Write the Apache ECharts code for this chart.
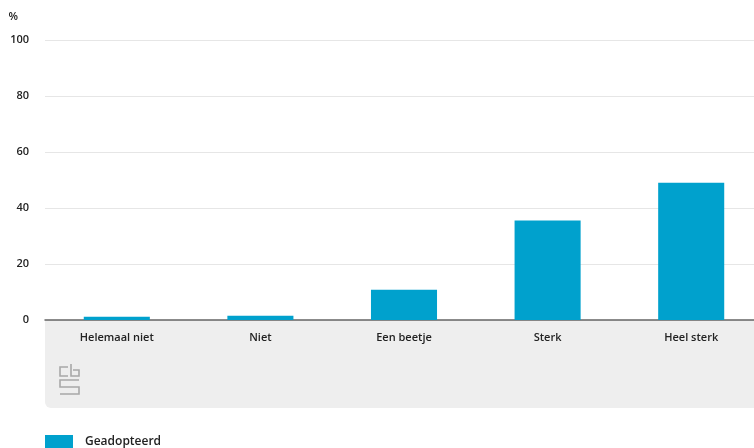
<!DOCTYPE html>
<html>
<head>
<meta charset="utf-8">
<script src="https://cdn.jsdelivr.net/npm/echarts@6/dist/echarts.min.js"></script>
<style>
  html, body { margin: 0; padding: 0; background: #fff; }
  #chart { width: 754px; height: 448px; }
</style>
</head>
<body>
<div id="chart"></div>
<script>
// categorieen en waarden (%)
const categories = ["Helemaal niet", "Niet", "Een beetje", "Sterk", "Heel sterk"];
const geadopteerd = [1.2, 1.5, 10.8, 35.5, 49];
const seriesName = "Geadopteerd";

const chart = echarts.init(document.getElementById("chart"));

const font = "Open Sans";
const logoStyle = { stroke: "#a8a8a8", lineWidth: 1.6, fill: null };

const option = {
  animation: false,
  textStyle: { fontFamily: font },
  // grafiek loopt rechts iets buiten beeld, zoals in het origineel
  grid: { left: 45, right: -9, top: 40, bottom: 128, outerBoundsMode: "none" },
  legend: {
    left: 45,
    top: 435,
    padding: 0,
    itemWidth: 28,
    itemHeight: 14,
    icon: "rect",
    textStyle: { color: "#222", fontSize: 12, fontWeight: 600, padding: [0, 0, 0, 7] },
    data: [seriesName]
  },
  graphic: [
    // grijze band onder de as
    {
      type: "rect",
      z: -10,
      shape: { x: 45, y: 321, width: 720, height: 87, r: [0, 0, 6, 6] },
      style: { fill: "#eeeeee" }
    },
    // cbs logo (schets)
    { type: "polyline", z: -5, shape: { points: [[68, 367], [60, 367], [60, 376], [68, 376]] }, style: logoStyle },
    { type: "polyline", z: -5, shape: { points: [[71, 364], [71, 376], [79, 376], [79, 370], [73, 370]] }, style: logoStyle },
    { type: "polyline", z: -5, shape: { points: [[79, 380], [60, 380], [60, 387], [79, 387], [79, 394], [60, 394]] }, style: logoStyle }
  ],
  xAxis: {
    type: "category",
    data: categories,
    axisLine: { lineStyle: { color: "#666", width: 1.5 } },
    axisTick: { show: false },
    axisLabel: { color: "#222", fontSize: 11, fontWeight: 600, margin: 12 }
  },
  yAxis: {
    type: "value",
    min: 0,
    max: 100,
    interval: 20,
    name: "%",
    nameGap: 18,
    nameTextStyle: { color: "#222", fontSize: 11, fontWeight: 600, align: "right", padding: [0, 27, 0, 0] },
    axisLine: { show: false },
    axisTick: { show: false },
    axisLabel: { color: "#222", fontSize: 11, fontWeight: 600, margin: 16 },
    splitLine: { lineStyle: { color: "#e6e6e6" } }
  },
  series: [
    {
      name: seriesName,
      type: "bar",
      data: geadopteerd,
      barWidth: "46%",
      itemStyle: { color: "#00a1cd" }
    }
  ]
};

chart.setOption(option);
</script>
</body>
</html>
